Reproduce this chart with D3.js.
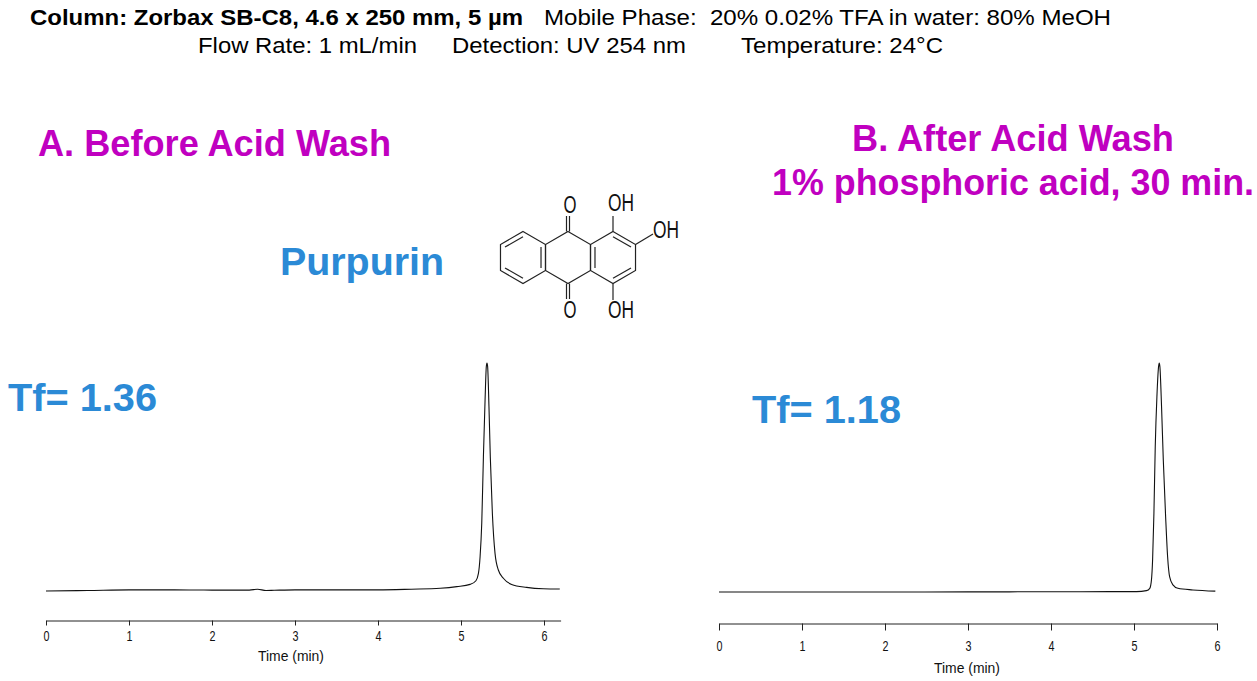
<!DOCTYPE html>
<html>
<head>
<meta charset="utf-8">
<script src="https://cdn.jsdelivr.net/npm/d3@7"></script>
<style>
  html, body { margin: 0; padding: 0; background: #fff; }
  svg { display: block; }
  text { font-family: "Liberation Sans", Arial, sans-serif; }
</style>
</head>
<body>
<svg id="chart" width="1257" height="681"></svg>
<script>
// Trace A, before acid wash (time in min, signal as % of peak height)
const timeA = [0, 0.5, 1, 1.45, 2, 2.45, 2.55, 2.65, 2.75, 3, 3.5, 4, 4.4, 4.75, 4.95, 5.11, 5.18, 5.21, 5.23, 5.25, 5.27, 5.29, 5.305, 5.313, 5.321, 5.337, 5.353, 5.378, 5.41, 5.45, 5.51, 5.61, 5.79, 5.99, 6.19];
const signalA = [0, 0.2, 0.5, 0.5, 0.4, 0.4, 0.8, 0.2, 0.3, 0.5, 0.5, 0.5, 0.8, 1.2, 1.9, 2.9, 4.5, 7.7, 15, 29.7, 58.9, 83.8, 98.4, 100, 98.4, 80.8, 58.9, 34, 16.5, 9.2, 5.6, 2.9, 1.6, 1, 0.9];

// Trace B, after acid wash
const timeB = [0, 1, 2, 3, 4, 4.71, 5.03, 5.15, 5.19, 5.21, 5.224, 5.24, 5.256, 5.276, 5.296, 5.304, 5.312, 5.332, 5.353, 5.381, 5.405, 5.429, 5.469, 5.529, 5.71, 5.98];
const signalB = [0, 0, 0, 0.05, 0.1, 0.15, 0.15, 0.6, 1.6, 5.2, 14, 34.4, 63.5, 85.3, 98.4, 100, 98.4, 80.9, 57.6, 32.9, 15.4, 6.7, 3.1, 1.6, 0.9, 0.4];

const tickValues = [0, 1, 2, 3, 4, 5, 6];

const svg = d3.select('#chart');

// Header and annotation text
const labels = [
  ['Column: Zorbax SB-C8, 4.6 x 250 mm, 5 \u00b5m', 30, 25, 22, 'bold', '#000', 493],
  ['Mobile Phase:  20% 0.02% TFA in water: 80% MeOH', 544, 25, 22, 'normal', '#000', 567],
  ['Flow Rate: 1 mL/min', 198, 52.5, 22, 'normal', '#000', 219],
  ['Detection: UV 254 nm', 452, 52.5, 22, 'normal', '#000', 234],
  ['Temperature: 24\u00b0C', 741, 52.5, 22, 'normal', '#000', 202],
  ['A. Before Acid Wash', 38, 156, 36, 'bold', '#c000c0', 353],
  ['B. After Acid Wash', 852, 151, 36, 'bold', '#c000c0', 322],
  ['1% phosphoric acid, 30 min.', 772, 195, 36, 'bold', '#c000c0', 482],
  ['Purpurin', 280, 275, 38, 'bold', '#2b8ad6', 164],
  ['Tf= 1.36', 8, 410.5, 38, 'bold', '#2b8ad6', 149],
  ['Tf= 1.18', 752, 422.5, 38, 'bold', '#2b8ad6', 149]
];

svg.selectAll('text.label')
  .data(labels)
  .enter().append('text')
  .attr('class', 'label')
  .attr('x', d => d[1])
  .attr('y', d => d[2])
  .attr('font-size', d => d[3])
  .attr('font-weight', d => d[4])
  .attr('fill', d => d[5])
  .attr('textLength', d => d[6])
  .attr('lengthAdjust', 'spacingAndGlyphs')
  .style('white-space', 'pre')
  .text(d => d[0]);

// One chromatogram panel: trace, time axis and its title
function drawPanel(times, signal, opt) {
  const x = d3.scaleLinear().domain([0, opt.maxTime]).range([opt.left, opt.left + 83 * opt.maxTime]);
  const y = d3.scaleLinear().domain([0, 100]).range([opt.base, 363]);

  const line = d3.line()
    .x((d, i) => x(times[i]))
    .y(d => y(d))
    .curve(d3.curveMonotoneX);

  svg.append('path')
    .datum(signal)
    .attr('fill', 'none')
    .attr('stroke', '#111')
    .attr('stroke-width', 1.1)
    .attr('d', line);

  const axis = d3.axisBottom(x)
    .tickValues(tickValues)
    .tickFormat(d3.format('d'))
    .tickSize(opt.tick)
    .tickSizeOuter(0)
    .tickPadding(opt.pad);

  const g = svg.append('g')
    .attr('transform', `translate(0,${opt.axisY})`)
    .call(axis);
  g.selectAll('path, line').attr('stroke', '#222').attr('stroke-width', 1);
  // the original labels are a condensed face, squeeze the installed one
  g.selectAll('text')
    .attr('font-size', 15)
    .attr('font-family', '"Liberation Sans", sans-serif')
    .attr('fill', '#111')
    .attr('textLength', 6)
    .attr('lengthAdjust', 'spacingAndGlyphs');

  svg.append('text')
    .attr('x', opt.titleX)
    .attr('y', opt.titleY)
    .attr('text-anchor', 'middle')
    .attr('font-size', 15)
    .attr('fill', '#111')
    .attr('textLength', 66)
    .attr('lengthAdjust', 'spacingAndGlyphs')
    .text('Time (min)');
}

drawPanel(timeA, signalA, { left: 46, maxTime: 6.2, base: 591, axisY: 620.5, tick: 5, pad: 5, titleX: 291, titleY: 661 });
drawPanel(timeB, signalB, { left: 719, maxTime: 6, base: 592, axisY: 623.5, tick: 7, pad: 10, titleX: 967, titleY: 673 });

// Purpurin structure: three fused hexagons
const ringR = 26, ringY = 257.5;
const ringCenters = [523, 568, 613];
const mol = svg.append('g')
  .attr('stroke', '#222')
  .attr('stroke-width', 1.2)
  .attr('fill', 'none');

const vertex = (cx, i, r = ringR) => {
  const a = Math.PI / 3 * i - Math.PI / 2;
  return [cx + r * Math.cos(a), ringY + r * Math.sin(a)];
};

ringCenters.forEach(cx => {
  mol.append('path')
    .attr('d', d3.line()(d3.range(6).map(i => vertex(cx, i))) + 'Z');
});

// inner strokes of the double bonds, as [ring, from vertex, to vertex]
const doubleBonds = [[0, 1, 2], [0, 3, 4], [0, 5, 0], [2, 0, 1], [2, 2, 3], [2, 4, 5]];
doubleBonds.forEach(([ring, a, b]) => {
  const p = vertex(ringCenters[ring], a, ringR * 0.8);
  const q = vertex(ringCenters[ring], b, ringR * 0.8);
  mol.append('line').attr('x1', p[0]).attr('y1', p[1]).attr('x2', q[0]).attr('y2', q[1]);
});

// substituent bonds
mol.append('line').attr('x1', 566.5).attr('x2', 566.5).attr('y1', 231.5).attr('y2', 216);
mol.append('line').attr('x1', 569.5).attr('x2', 569.5).attr('y1', 231.5).attr('y2', 216);
mol.append('line').attr('x1', 566.5).attr('x2', 566.5).attr('y1', 283.5).attr('y2', 299);
mol.append('line').attr('x1', 569.5).attr('x2', 569.5).attr('y1', 283.5).attr('y2', 299);
mol.append('line').attr('x1', 613).attr('x2', 613).attr('y1', 231.5).attr('y2', 216);
mol.append('line').attr('x1', 613).attr('x2', 613).attr('y1', 283.5).attr('y2', 300);
mol.append('line').attr('x1', 635.5).attr('x2', 653).attr('y1', 244.5).attr('y2', 234);

const atoms = [['O', 570, 213, 13], ['OH', 621, 211, 26], ['OH', 666, 238, 26], ['O', 570, 318, 13], ['OH', 621, 318, 26]];
svg.selectAll('text.atom')
  .data(atoms)
  .enter().append('text')
  .attr('class', 'atom')
  .attr('x', d => d[1])
  .attr('y', d => d[2])
  .attr('text-anchor', 'middle')
  .attr('font-size', 23)
  .attr('fill', '#111')
  .attr('textLength', d => d[3])
  .attr('lengthAdjust', 'spacingAndGlyphs')
  .text(d => d[0]);
</script>
</body>
</html>
